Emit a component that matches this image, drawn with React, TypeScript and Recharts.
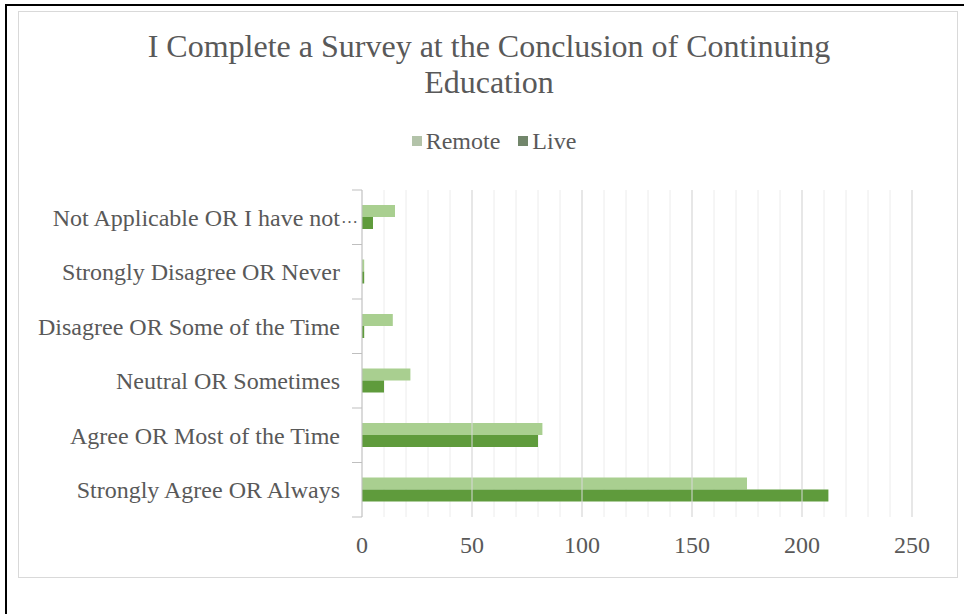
import React from "react";
import { BarChart, Bar, XAxis, YAxis, CartesianGrid, ReferenceLine } from "recharts";

// Survey responses, listed top to bottom
const categories = [
  "Not Applicable OR I have not…",
  "Strongly Disagree OR Never",
  "Disagree OR Some of the Time",
  "Neutral OR Sometimes",
  "Agree OR Most of the Time",
  "Strongly Agree OR Always",
];
const remoteValues = [15, 1, 14, 22, 82, 175];
const liveValues = [5, 1, 1, 10, 80, 212];
const xTicks = [0, 10, 20, 30, 40, 50, 60, 70, 80, 90, 100, 110, 120, 130, 140, 150, 160, 170, 180, 190, 200, 210, 220, 230, 240, 250];
const majorTicks = [50, 100, 150, 200, 250];

const title = ["I Complete a Survey at the Conclusion of Continuing", "Education"];
const legendItems = [
  { name: "Remote", swatch: "#b3c3a9" },
  { name: "Live", swatch: "#72866b" },
];

const data = categories.map((c, i) => ({ name: c, Remote: remoteValues[i], Live: liveValues[i] }));

const FONT = "'Liberation Serif', 'Times New Roman', serif";
const TEXT = "#595959";
const REMOTE = "#a9cf90";
const LIVE = "#5f9b3c";

// Category label; a truncated label lets its ellipsis run past the label edge
const CategoryTick = (props: any) => {
  const { x, y, payload, index } = props;
  const half = payload && payload.offset ? payload.offset : 27.3;
  const value = String(payload.value);
  const truncated = value.endsWith("…");
  const main = truncated ? value.slice(0, -1) : value;
  return (
    <g>
      <text x={x} y={y} dy="0.35em" textAnchor="end" fill={TEXT} fontSize={24} fontFamily={FONT}>
        {main}
      </text>
      {truncated && (
        <text x={x + 1} y={y} dy="0.35em" textAnchor="start" fill={TEXT} fontSize={17} fontFamily={FONT}>
          …
        </text>
      )}
      <line x1={x + 12} x2={x + 22} y1={y - half} y2={y - half} stroke="#bfbfbf" />
      {index === categories.length - 1 && (
        <line x1={x + 12} x2={x + 22} y1={y + half} y2={y + half} stroke="#bfbfbf" />
      )}
    </g>
  );
};

export default function App() {
  return (
    <div style={{ position: "absolute", left: 0, top: 0, width: 964, height: 614, background: "#fff", fontFamily: FONT }}>
      <div style={{ position: "absolute", left: 5, top: 4, width: 959, height: 2, background: "#000" }} />
      <div style={{ position: "absolute", left: 5, top: 4, width: 2, height: 610, background: "#000" }} />
      <div style={{ position: "absolute", left: 18, top: 11, width: 938, height: 565, border: "1px solid #d9d9d9" }} />

      <div style={{ position: "absolute", left: 0, top: 28, width: 978, textAlign: "center", fontSize: 32, lineHeight: "36px", color: TEXT }}>
        {title.map((t) => (
          <div key={t}>{t}</div>
        ))}
      </div>

      <div style={{ position: "absolute", left: 0, top: 128, width: 988, display: "flex", justifyContent: "center", fontSize: 24, lineHeight: "26px", color: TEXT }}>
        {legendItems.map((it) => (
          <div key={it.name} style={{ display: "flex", alignItems: "center", margin: "0 9px" }}>
            <span style={{ display: "inline-block", width: 10, height: 10, background: it.swatch, marginRight: 4 }} />
            <span>{it.name}</span>
          </div>
        ))}
      </div>

      <div style={{ position: "absolute", left: 0, top: 0 }}>
        <BarChart
          width={964}
          height={614}
          data={data}
          layout="vertical"
          margin={{ top: 190, right: 52, left: 0, bottom: 57 }}
          barGap={0}
          barSize={12}
        >
          <CartesianGrid horizontal={false} stroke="#ececec" />
          {majorTicks.map((t) => (
            <ReferenceLine key={t} x={t} stroke="#d9d9d9" />
          ))}
          <XAxis
            type="number"
            domain={[0, 250]}
            ticks={xTicks}
            interval={0}
            axisLine={false}
            tickLine={false}
            tickSize={0}
            tickMargin={19}
            height={40}
            tickFormatter={(v: number) => (v % 50 === 0 ? String(v) : "")}
            tick={{ fill: TEXT, fontSize: 24, fontFamily: FONT }}
          />
          <YAxis
            type="category"
            dataKey="name"
            width={362}
            axisLine={{ stroke: "#bfbfbf" }}
            tickLine={false}
            tickSize={0}
            tickMargin={22}
            interval={0}
            tick={<CategoryTick />}
          />
          <Bar dataKey="Remote" fill={REMOTE} isAnimationActive={false} />
          <Bar dataKey="Live" fill={LIVE} isAnimationActive={false} />
        </BarChart>
      </div>
    </div>
  );
}
